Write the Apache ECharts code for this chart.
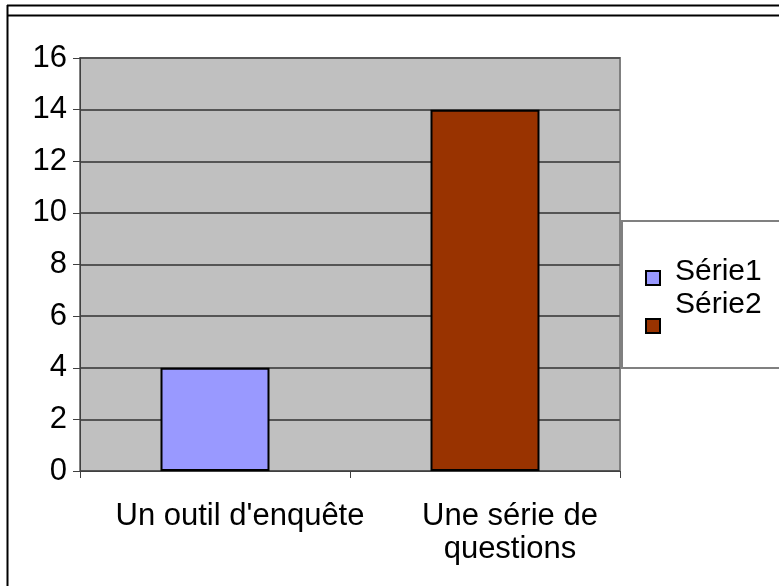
<!DOCTYPE html>
<html lang="fr">
  <head>
    <meta charset="UTF-8" />
    <title>Série</title>
    <style>
      html, body { margin: 0; padding: 0; background: #fff; }
      #chart { width: 779px; height: 586px; }
    </style>
    <script src="https://cdn.jsdelivr.net/npm/echarts@6/dist/echarts.min.js"></script>
  </head>
  <body>
    <div id="chart"></div>
    <script>
      const categories = ["Un outil d'enquête", "Une série de\nquestions"];
      const serie1 = [4, null];
      const serie2 = [null, 14];
      const seriesNames = ["Série1", "Série2"];
      const font = "Liberation Sans, Arial, sans-serif";

      // label + an empty spacer line, so the label sits above its marker
      function legendText(spacer) {
        return {
          fontSize: 30, color: "#000", fontFamily: font, padding: [0, 0, 0, 10],
          rich: {
            a: { fontSize: 30, lineHeight: 30, fontFamily: font, color: "#000" },
            s: { fontSize: 2, lineHeight: spacer }
          }
        };
      }
      const legendBase = {
        orient: "vertical",
        itemWidth: 14, itemHeight: 14,
        icon: "rect",
        itemStyle: { borderColor: "#000", borderWidth: 2 },
        formatter: "{a|{name}}\n{s| }"
      };

      const myChart = echarts.init(document.getElementById("chart"), null, { renderer: "canvas" });
      const option = {
        animation: false,
        backgroundColor: "#ffffff",
        textStyle: { fontFamily: font },
        grid: {
          left: 80, right: 159, top: 58, bottom: 115,
          show: true, backgroundColor: "#c0c0c0", borderColor: "#808080", borderWidth: 2
        },
        legend: [
          Object.assign({}, legendBase, {
            left: 622, top: 221,
            padding: [36, 90, 74, 23],
            borderColor: "#808080", borderWidth: 2, backgroundColor: "#fff",
            textStyle: legendText(12),
            data: [seriesNames[0]]
          }),
          Object.assign({}, legendBase, {
            left: 645, top: 290, z: 5,
            padding: 0,
            textStyle: legendText(42),
            data: [seriesNames[1]]
          })
        ],
        xAxis: {
          type: "category",
          data: categories,
          axisLine: { lineStyle: { color: "#404040", width: 1 } },
          axisTick: { show: true, length: 7, lineStyle: { color: "#404040" } },
          axisLabel: {
            interval: 0, fontSize: 31, color: "#000", margin: 29, lineHeight: 33,
            padding: [0, 0, 0, 50], fontFamily: font
          },
          splitLine: { show: false }
        },
        yAxis: {
          type: "value",
          min: 0, max: 16, interval: 2,
          axisLine: { show: true, lineStyle: { color: "#404040", width: 1 } },
          axisTick: { show: true, length: 7, lineStyle: { color: "#404040" } },
          axisLabel: { fontSize: 31, color: "#000", margin: 13, fontFamily: font },
          splitLine: { show: true, lineStyle: { color: "#555555", width: 2 } }
        },
        series: [
          {
            name: seriesNames[0], type: "bar", stack: "s", data: serie1, barWidth: 109,
            itemStyle: { color: "#9999ff", borderColor: "#000", borderWidth: 2 }
          },
          {
            name: seriesNames[1], type: "bar", stack: "s", data: serie2, barWidth: 109,
            itemStyle: { color: "#993300", borderColor: "#000", borderWidth: 2 }
          }
        ],
        graphic: [
          { type: "line", shape: { x1: 7, y1: 5.5, x2: 779, y2: 5.5 }, style: { stroke: "#000", lineWidth: 2 } },
          { type: "line", shape: { x1: 7, y1: 15.5, x2: 779, y2: 15.5 }, style: { stroke: "#000", lineWidth: 2 } },
          { type: "line", shape: { x1: 7.5, y1: 5, x2: 7.5, y2: 586 }, style: { stroke: "#000", lineWidth: 2 } }
        ]
      };
      myChart.setOption(option);
    </script>
  </body>
</html>
